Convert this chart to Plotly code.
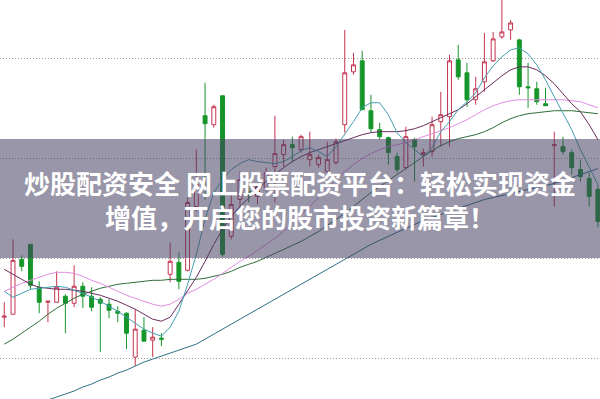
import plotly.graph_objects as go

# ---- data (price units) ----
day = list(range(69))

open_ = [10.41, 10.44, 10.99, 11.14, 10.71, 10.56, 10.56, 10.62, 10.55, 10.72,
         10.62, 10.59, 10.54, 10.47, 10.45, 10.01, 10.28, 10.18, 10.20, 10.84,
         10.96, 10.88, 11.52, 12.43, 12.34, 12.63, 11.22, 11.59, 11.67, 11.62,
         11.71, 11.92, 12.04, 12.14, 12.09, 11.99, 11.94, 11.87, 11.96, 12.34,
         12.87, 12.98, 12.48, 12.29, 12.21, 12.02, 11.91, 12.19, 12.04, 12.07,
         12.37, 12.42, 12.99, 12.86, 12.59, 12.77, 12.98, 13.22, 13.29, 13.19,
         12.72, 12.70, 12.55, 12.13, 12.12, 12.06, 11.89, 11.80, 11.69]
high = [10.56, 11.19, 11.03, 11.14, 10.77, 10.57, 10.87, 10.64, 10.93, 10.76,
        10.71, 10.61, 10.59, 10.52, 10.46, 10.49, 10.41, 10.31, 10.25, 11.16,
        11.06, 11.61, 12.09, 12.76, 12.54, 12.63, 11.64, 11.87, 11.74, 11.76,
        11.91, 12.43, 12.19, 12.22, 12.24, 12.27, 12.04, 12.17, 12.20, 13.29,
        13.06, 13.08, 12.64, 12.36, 12.22, 12.06, 12.32, 12.21, 12.10, 12.42,
        12.67, 13.04, 13.14, 12.96, 12.82, 13.26, 13.27, 13.69, 13.39, 13.20,
        12.96, 12.77, 12.71, 12.27, 12.22, 12.09, 11.99, 11.86, 11.74]
low = [10.31, 10.44, 10.87, 10.69, 10.45, 10.36, 10.56, 10.25, 10.51, 10.50,
       10.47, 10.06, 10.40, 10.36, 10.09, 9.92, 10.17, 10.01, 10.12, 10.76,
       10.69, 10.87, 11.47, 11.59, 12.31, 11.02, 11.19, 11.44, 11.56, 11.54,
       11.67, 11.56, 11.92, 11.96, 12.06, 11.92, 11.91, 11.81, 11.94, 12.26,
       12.84, 12.49, 12.26, 12.19, 11.94, 11.86, 11.89, 11.77, 11.92, 12.02,
       12.12, 12.12, 12.79, 12.52, 12.54, 12.67, 12.97, 13.20, 13.19, 12.64,
       12.51, 12.54, 12.53, 11.52, 12.04, 11.84, 11.77, 11.52, 11.31]
close = [10.42, 10.98, 10.92, 10.73, 10.56, 10.57, 10.71, 10.55, 10.72, 10.62,
         10.51, 10.55, 10.48, 10.45, 10.25, 10.29, 10.17, 10.21, 10.19, 10.97,
         10.77, 11.56, 11.74, 12.35, 12.52, 11.04, 11.54, 11.79, 11.63, 11.72,
         11.86, 12.05, 12.14, 12.11, 12.22, 12.04, 12.01, 11.99, 12.17, 12.86,
         12.94, 12.49, 12.30, 12.22, 12.06, 11.89, 12.22, 12.12, 12.06, 12.34,
         12.44, 12.98, 12.82, 12.59, 12.70, 12.97, 13.20, 13.27, 13.36, 12.72,
         12.71, 12.57, 12.53, 12.14, 12.07, 11.91, 11.82, 11.62, 11.37]

ma5 = [10.67, 10.61, 10.65, 10.69, 10.70, 10.71, 10.72, 10.71, 10.68, 10.65,
       10.61, 10.57, 10.52, 10.47, 10.41, 10.35, 10.29, 10.25, 10.22, 10.31,
       10.47, 10.74, 11.04, 11.39, 11.66, 11.79, 11.89, 11.95, 11.99, 11.97,
       11.96, 11.95, 11.97, 12.02, 12.08, 12.11, 12.07, 12.02, 12.12, 12.24,
       12.37, 12.51, 12.56, 12.56, 12.44, 12.26, 12.16, 12.09, 12.02, 12.11,
       12.27, 12.37, 12.49, 12.57, 12.66, 12.81, 12.93, 13.02, 13.09, 13.11,
       13.05, 12.94, 12.79, 12.62, 12.45, 12.29, 12.09, 11.91, 11.74]
ma10 = [10.89, 10.84, 10.79, 10.74, 10.71, 10.70, 10.69, 10.69, 10.68, 10.67,
        10.65, 10.63, 10.60, 10.57, 10.53, 10.49, 10.44, 10.39, 10.37, 10.41,
        10.54, 10.67, 10.81, 10.97, 11.14, 11.29, 11.42, 11.52, 11.61, 11.69,
        11.77, 11.84, 11.91, 11.97, 12.02, 12.06, 12.09, 12.12, 12.15, 12.18,
        12.21, 12.24, 12.26, 12.27, 12.27, 12.27, 12.28, 12.30, 12.33, 12.37,
        12.41, 12.45, 12.49, 12.55, 12.62, 12.69, 12.76, 12.83, 12.89, 12.92,
        12.92, 12.89, 12.83, 12.75, 12.65, 12.55, 12.47, 12.34, 12.19]
ma20 = [10.67, 10.71, 10.75, 10.78, 10.81, 10.84, 10.86, 10.86, 10.85, 10.82,
        10.78, 10.75, 10.71, 10.67, 10.63, 10.60, 10.57, 10.54, 10.52, 10.54,
        10.59, 10.65, 10.69, 10.74, 10.79, 10.85, 10.91, 10.97, 11.02, 11.08,
        11.14, 11.20, 11.27, 11.35, 11.43, 11.52, 11.61, 11.70, 11.79, 11.87,
        11.94, 12.00, 12.05, 12.09, 12.12, 12.14, 12.16, 12.19, 12.22, 12.25,
        12.28, 12.31, 12.35, 12.39, 12.44, 12.49, 12.53, 12.56, 12.58, 12.59,
        12.59, 12.59, 12.59, 12.59, 12.59, 12.58, 12.57, 12.54, 12.51]
ma60 = [10.14, 10.19, 10.25, 10.31, 10.37, 10.44, 10.50, 10.55, 10.60, 10.64,
        10.67, 10.70, 10.72, 10.74, 10.75, 10.76, 10.77, 10.78, 10.78, 10.79,
        10.79, 10.79, 10.79, 10.80, 10.82, 10.84, 10.87, 10.91, 10.94, 10.97,
        11.01, 11.05, 11.09, 11.13, 11.17, 11.22, 11.27, 11.33, 11.39, 11.45,
        11.52, 11.59, 11.66, 11.72, 11.78, 11.84, 11.90, 11.96, 12.02, 12.08,
        12.13, 12.17, 12.20, 12.22, 12.24, 12.27, 12.31, 12.36, 12.40, 12.43,
        12.45, 12.46, 12.47, 12.48, 12.48, 12.48, 12.47, 12.46, 12.45]
ma120 = [9.34, 9.39, 9.44, 9.49, 9.54, 9.58, 9.61, 9.64, 9.67, 9.71,
         9.74, 9.78, 9.81, 9.85, 9.88, 9.92, 9.96, 9.99, 10.02, 10.05,
         10.08, 10.11, 10.14, 10.19, 10.24, 10.29, 10.34, 10.39, 10.44, 10.49,
         10.54, 10.59, 10.64, 10.69, 10.74, 10.79, 10.84, 10.89, 10.94, 10.99,
         11.04, 11.09, 11.14, 11.18, 11.22, 11.26, 11.30, 11.34, 11.38, 11.41,
         11.44, 11.47, 11.50, 11.53, 11.56, 11.59, 11.61, 11.63, 11.65, 11.67,
         11.69, 11.71, 11.73, 11.75, 11.78, 11.81, 11.84, 11.87, 11.90]

grid_levels = [10, 11, 12, 13]
title_lines = ["炒股配资安全 网上股票配资平台：轻松实现资金",
               "增值，开启您的股市投资新篇章！"]

UP = "#c4344f"
DOWN = "#16962a"

fig = go.Figure()
fig.add_trace(go.Candlestick(
    x=day, open=open_, high=high, low=low, close=close,
    increasing=dict(line=dict(color=UP, width=1), fillcolor="white"),
    decreasing=dict(line=dict(color=DOWN, width=1), fillcolor=DOWN),
    whiskerwidth=0, showlegend=False, hoverinfo="skip"))

for vals, col in [(ma120, "#2c7286"), (ma60, "#2f6e37"), (ma20, "#e28de2"),
                  (ma10, "#6a2b5c"), (ma5, "#439fb0")]:
    fig.add_trace(go.Scatter(x=day, y=vals, mode="lines",
                             line=dict(color=col, width=1.0),
                             showlegend=False, hoverinfo="skip"))

fig.add_shape(type="rect", xref="paper", yref="paper",
              x0=0, x1=1, y0=1 - 258 / 399, y1=1 - 139 / 399,
              fillcolor="rgba(68,64,97,0.55)", line=dict(width=0), layer="above")

for txt, yc in zip(title_lines, [182, 216]):
    fig.add_annotation(xref="paper", yref="paper", x=0.5, y=1 - yc / 399,
                       xanchor="center", yanchor="middle", showarrow=False,
                       text="<b>" + txt + "</b>",
                       font=dict(family="Noto Sans CJK SC", size=26, color="white"))

fig.update_layout(
    width=600, height=399, margin=dict(l=0, r=0, t=0, b=0),
    paper_bgcolor="white", plot_bgcolor="white", boxgap=0.36,
    xaxis=dict(range=[-0.49, 68.24], showgrid=False, zeroline=False,
               showticklabels=False, showline=False, ticks="",
               rangeslider=dict(visible=False)),
    yaxis=dict(range=[9.59, 13.59], tickvals=grid_levels, showgrid=True,
               gridcolor="#9c9c9c", griddash="1px,2px", gridwidth=1,
               zeroline=False, showticklabels=False, showline=False, ticks=""),
)

fig.write_html("out.html")
